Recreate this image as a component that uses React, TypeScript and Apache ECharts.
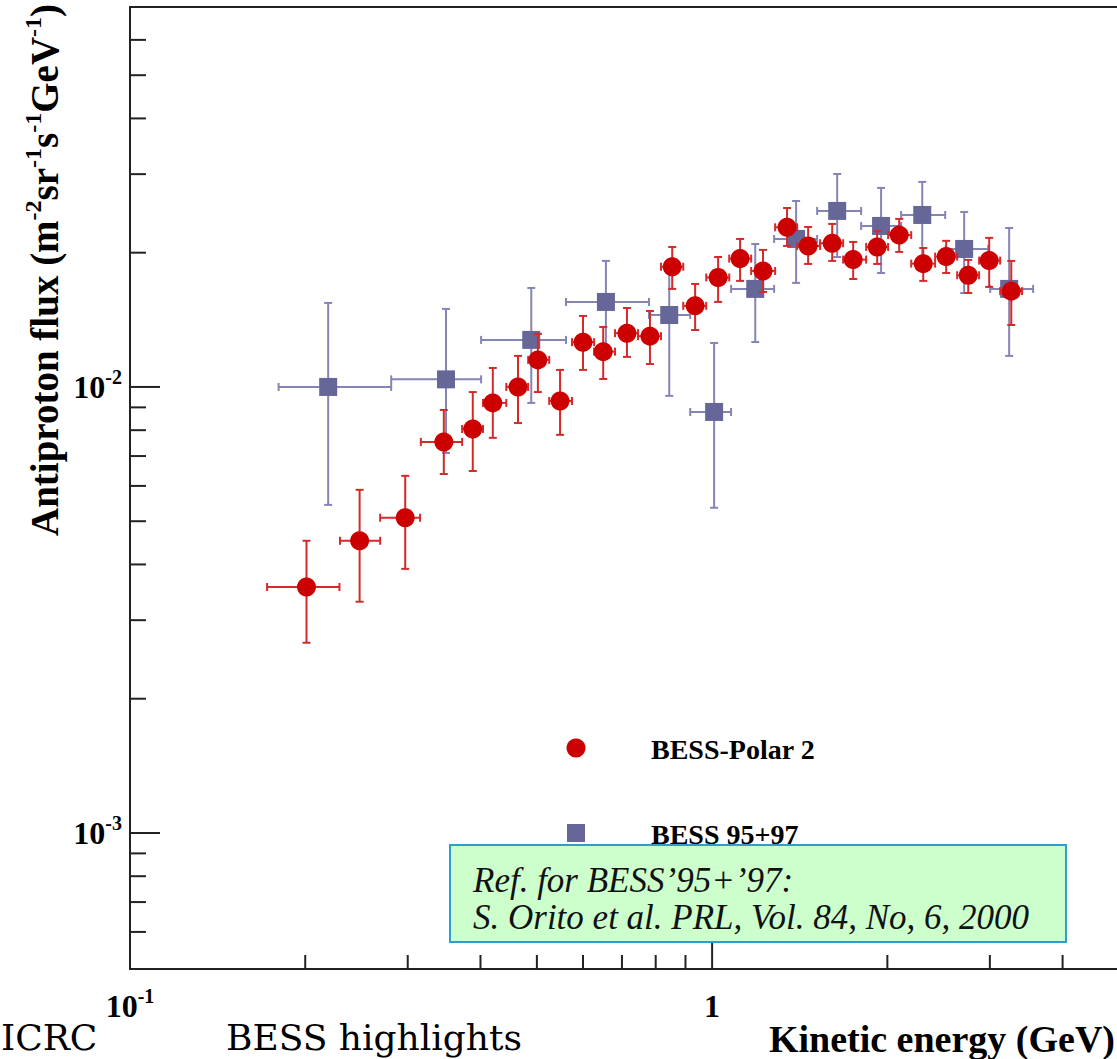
import React, { useEffect, useRef } from "react";
import * as echarts from "echarts";

// Axis ranges (GeV, flux)
const X_MIN = 0.1;
const X_MAX = 5;
const Y_MIN = 4.955e-4;
const Y_MAX = 0.0711;

// BESS-Polar 2
const polarE = [0.201, 0.248, 0.297, 0.346, 0.388, 0.42, 0.464, 0.502, 0.548, 0.6, 0.65, 0.714, 0.782, 0.854, 0.935, 1.024, 1.117, 1.223, 1.345, 1.462, 1.608, 1.747, 1.921, 2.096, 2.305, 2.524, 2.754, 2.992, 3.265];
const polarELo = [0.172, 0.2295, 0.269, 0.316, 0.372, 0.404, 0.443, 0.483, 0.525, 0.5745, 0.627, 0.681, 0.746, 0.817, 0.892, 0.977, 1.07, 1.167, 1.283, 1.4, 1.533, 1.679, 1.839, 2.006, 2.198, 2.416, 2.636, 2.875, 3.125];
const polarEHi = [0.229, 0.269, 0.315, 0.372, 0.404, 0.443, 0.483, 0.525, 0.5745, 0.627, 0.681, 0.746, 0.817, 0.892, 0.977, 1.07, 1.167, 1.283, 1.4, 1.533, 1.679, 1.839, 2.006, 2.198, 2.416, 2.636, 2.875, 3.125, 3.408];
const polarFlux = [0.00356, 0.00452, 0.00509, 0.00753, 0.00805, 0.00921, 0.01, 0.0115, 0.0093, 0.0126, 0.012, 0.0132, 0.013, 0.0186, 0.0152, 0.0176, 0.0194, 0.0182, 0.0228, 0.0207, 0.021, 0.0193, 0.0206, 0.0219, 0.0189, 0.0196, 0.0178, 0.0192, 0.0164];
const polarFluxLo = [0.00267, 0.0033, 0.00391, 0.00638, 0.00648, 0.00769, 0.0083, 0.00974, 0.00781, 0.01092, 0.01042, 0.01168, 0.01126, 0.01659, 0.01342, 0.01551, 0.01729, 0.01633, 0.02071, 0.01887, 0.01917, 0.01746, 0.01887, 0.02008, 0.01729, 0.01801, 0.01624, 0.01676, 0.01377];
const polarFluxHi = [0.00452, 0.00588, 0.00632, 0.00888, 0.00974, 0.01103, 0.01174, 0.01315, 0.01092, 0.01443, 0.01363, 0.01503, 0.0148, 0.0206, 0.01702, 0.01956, 0.02147, 0.02029, 0.02519, 0.02284, 0.0232, 0.02114, 0.02237, 0.02381, 0.02049, 0.02126, 0.01927, 0.02159, 0.01917];

// BESS 95+97
const bessE = [0.219, 0.349, 0.489, 0.657, 0.844, 1.008, 1.186, 1.394, 1.64, 1.951, 2.296, 2.71, 3.238];
const bessELo = [0.18, 0.281, 0.401, 0.561, 0.779, 0.917, 1.078, 1.278, 1.515, 1.803, 2.112, 2.52, 3.004];
const bessEHi = [0.281, 0.401, 0.561, 0.779, 0.917, 1.078, 1.278, 1.515, 1.803, 2.112, 2.514, 2.98, 3.56];
const bessFlux = [0.01, 0.0104, 0.01275, 0.01551, 0.0145, 0.00879, 0.01659, 0.02147, 0.02481, 0.02296, 0.0243, 0.02039, 0.01659];
const bessFluxLo = [0.00544, 0.00711, 0.00921, 0.0121, 0.00955, 0.00536, 0.01261, 0.01711, 0.01956, 0.01801, 0.01947, 0.01624, 0.01174];
const bessFluxHi = [0.01543, 0.01496, 0.01667, 0.01917, 0.0182, 0.01255, 0.02092, 0.02612, 0.03002, 0.02794, 0.02882, 0.02468, 0.02272];

// Tick values
const xMajorTicks = [1];
const xMinorTicks = [0.2, 0.3, 0.4, 0.5, 0.6, 0.7, 0.8, 0.9, 2, 3, 4];
const yMajorTicks = [0.001, 0.01];
const yMinorTicks = [0.0006, 0.0007, 0.0008, 0.0009, 0.002, 0.003, 0.004, 0.005, 0.006, 0.007, 0.008, 0.009, 0.02, 0.03, 0.04, 0.05, 0.06];

const seriesNames = ["BESS-Polar 2", "BESS 95+97"];
const refLines = ["Ref. for BESS\u201995+\u201997:", "S. Orito et al. PRL, Vol. 84, No, 6, 2000"];
const footerTexts = ["ICRC", "BESS highlights"];

const RED = "#cc0000";
const RED_BAR = "#d42a2a";
const BLUE = "#666699";
const BLUE_BAR = "#8585b5";
const SERIF = "Liberation Serif";

const labelRich = {
  b: { fontFamily: SERIF, fontWeight: "bold", fontSize: 32, lineHeight: 40, color: "#000" },
  s: { fontFamily: SERIF, fontWeight: "bold", fontSize: 20, lineHeight: 20, verticalAlign: "top", color: "#000" },
};

function powLabel(v: number) {
  const l = Math.log10(v);
  const e = Math.round(l);
  if (Math.abs(l - e) > 1e-6) return "";
  if (e === 0) return "{b|1}";
  return "{b|10}{s|" + e + "}";
}

function errRender(color: string) {
  return (params: any, api: any) => {
    const x = api.value(0), y = api.value(1);
    const c = api.coord([x, y]);
    const pl = api.coord([api.value(2), y]);
    const ph = api.coord([api.value(3), y]);
    const pb = api.coord([x, api.value(4)]);
    const pt = api.coord([x, api.value(5)]);
    const cap = 4;
    const st = { stroke: color, lineWidth: 2 };
    return {
      type: "group",
      children: [
        { type: "line", shape: { x1: pl[0], y1: c[1], x2: ph[0], y2: c[1] }, style: st },
        { type: "line", shape: { x1: c[0], y1: pb[1], x2: c[0], y2: pt[1] }, style: st },
        { type: "line", shape: { x1: pl[0], y1: c[1] - cap, x2: pl[0], y2: c[1] + cap }, style: st },
        { type: "line", shape: { x1: ph[0], y1: c[1] - cap, x2: ph[0], y2: c[1] + cap }, style: st },
        { type: "line", shape: { x1: c[0] - cap, y1: pb[1], x2: c[0] + cap, y2: pb[1] }, style: st },
        { type: "line", shape: { x1: c[0] - cap, y1: pt[1], x2: c[0] + cap, y2: pt[1] }, style: st },
      ],
    };
  };
}

function tickSeries(data: number[][], dir: "x" | "y", len: number) {
  return {
    type: "custom",
    silent: true,
    z: 5,
    data,
    renderItem: (params: any, api: any) => {
      const p = api.coord([api.value(0), api.value(1)]);
      const shape = dir === "y"
        ? { x1: p[0], y1: p[1], x2: p[0] + len, y2: p[1] }
        : { x1: p[0], y1: p[1], x2: p[0], y2: p[1] - len };
      return { type: "line", shape, style: { stroke: "#222", lineWidth: 2 } };
    },
  };
}

export default function App() {
  const ref = useRef<HTMLDivElement>(null);
  useEffect(() => {
    const chart = echarts.init(ref.current!, null, { renderer: "svg" });
    const polarData = polarE.map((e, i) => [e, polarFlux[i], polarELo[i], polarEHi[i], polarFluxLo[i], polarFluxHi[i]]);
    const bessData = bessE.map((e, i) => [e, bessFlux[i], bessELo[i], bessEHi[i], bessFluxLo[i], bessFluxHi[i]]);
    const titleRich = {
      t: { fontFamily: SERIF, fontWeight: "bold", fontSize: 39, lineHeight: 46, fill: "#000" },
      s: { fontFamily: SERIF, fontWeight: "bold", fontSize: 24, lineHeight: 24, verticalAlign: "top", fill: "#000" },
    };
    const option: any = {
      animation: false,
      backgroundColor: "#fff",
      grid: { left: 130, top: 7, width: 989, height: 962, show: true, borderColor: "#222", borderWidth: 2, backgroundColor: "transparent" },
      xAxis: {
        type: "log", logBase: 10, min: X_MIN, max: X_MAX,
        axisLine: { show: false }, axisTick: { show: false }, splitLine: { show: false },
        axisLabel: { formatter: powLabel, margin: 17, interval: 0, rich: labelRich },
      },
      yAxis: {
        type: "log", logBase: 10, min: Y_MIN, max: Y_MAX,
        axisLine: { show: false }, axisTick: { show: false }, splitLine: { show: false },
        axisLabel: { formatter: powLabel, margin: 8, interval: 0, rich: labelRich },
      },
      series: [
        { type: "custom", name: seriesNames[1] + " err", data: bessData, encode: { x: [0, 2, 3], y: [1, 4, 5] }, renderItem: errRender(BLUE_BAR), silent: true, z: 2 },
        { type: "scatter", name: seriesNames[1], data: bessData.map((d) => [d[0], d[1]]), symbol: "rect", symbolSize: 18, itemStyle: { color: BLUE, opacity: 1 }, z: 3 },
        { type: "custom", name: seriesNames[0] + " err", data: polarData, encode: { x: [0, 2, 3], y: [1, 4, 5] }, renderItem: errRender(RED_BAR), silent: true, z: 4 },
        { type: "scatter", name: seriesNames[0], data: polarData.map((d) => [d[0], d[1]]), symbol: "circle", symbolSize: 19, itemStyle: { color: RED, opacity: 1 }, z: 5 },
        tickSeries(xMajorTicks.map((v) => [v, Y_MIN]), "x", 28),
        tickSeries(xMinorTicks.map((v) => [v, Y_MIN]), "x", 14),
        tickSeries(yMajorTicks.map((v) => [X_MIN, v]), "y", 30),
        tickSeries(yMinorTicks.map((v) => [X_MIN, v]), "y", 16),
      ],
      graphic: [
        {
          type: "text", x: 44, y: 270, rotation: Math.PI / 2,
          style: {
            text: "{t|Antiproton flux (m}{s|-2}{t|sr}{s|-1}{t|s}{s|-1}{t|GeV}{s|-1}{t|)}",
            rich: titleRich, textAlign: "center", textVerticalAlign: "middle",
          },
        },
        {
          type: "text", x: 1115, y: 1039,
          style: { text: "Kinetic energy (GeV)", fontFamily: SERIF, fontWeight: "bold", fontSize: 38, fill: "#000", textAlign: "right", textVerticalAlign: "middle" },
        },
        { type: "circle", shape: { cx: 576, cy: 748, r: 9.5 }, style: { fill: RED } },
        { type: "rect", shape: { x: 567, y: 824, width: 18, height: 18 }, style: { fill: BLUE } },
        { type: "text", x: 651, y: 749, style: { text: seriesNames[0], fontFamily: SERIF, fontWeight: "bold", fontSize: 28, fill: "#000", textVerticalAlign: "middle" } },
        { type: "text", x: 651, y: 834, style: { text: seriesNames[1], fontFamily: SERIF, fontWeight: "bold", fontSize: 28, fill: "#000", textVerticalAlign: "middle" } },
        { type: "rect", shape: { x: 450, y: 845, width: 616, height: 97 }, style: { fill: "#ccffcc", stroke: "#2a9fd0", lineWidth: 2 }, z: 10 },
        {
          type: "text", x: 473, y: 899, z: 11,
          style: { text: refLines.join("\n"), fontFamily: SERIF, fontStyle: "italic", fontSize: 35, lineHeight: 37, fill: "#111", textVerticalAlign: "middle" },
        },
        { type: "text", x: 1, y: 1037, style: { text: footerTexts[0], fontFamily: "DejaVu Serif", fontSize: 36, fill: "#000", textVerticalAlign: "middle" } },
        { type: "text", x: 226, y: 1037, style: { text: footerTexts[1], fontFamily: "DejaVu Serif", fontSize: 36, fill: "#000", textVerticalAlign: "middle" } },
      ],
    };
    chart.setOption(option);
    return () => chart.dispose();
  }, []);
  return (
    <div style={{ position: "fixed", left: 0, top: 0, width: 1117, height: 1059, overflow: "hidden", background: "#fff" }}>
      <div ref={ref} style={{ width: 1125, height: 1059 }} />
    </div>
  );
}
